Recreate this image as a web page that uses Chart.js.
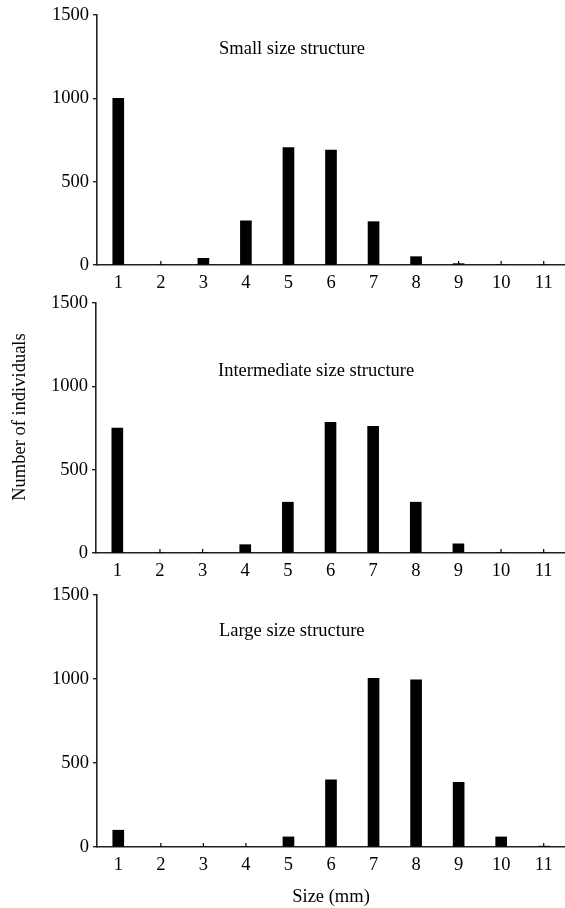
<!DOCTYPE html>
<html>
<head>
<meta charset="utf-8">
<script src="https://cdn.jsdelivr.net/npm/chart.js@4.4.1/dist/chart.umd.min.js"></script>
<style>
  html, body { margin: 0; padding: 0; background: #ffffff; }
  body { width: 565px; height: 908px; position: relative; overflow: hidden; }
  .panel { position: absolute; left: 0; width: 565px; }
  .panel canvas { display: block; }
</style>
</head>
<body>
<div class="panel" style="top:0px;height:300px;"><canvas id="c1" width="565" height="300"></canvas></div>
<div class="panel" style="top:288px;height:300px;"><canvas id="c2" width="565" height="300"></canvas></div>
<div class="panel" style="top:580px;height:328px;"><canvas id="c3" width="565" height="328"></canvas></div>
<script>
// ---- data ----
const sizes = ['1', '2', '3', '4', '5', '6', '7', '8', '9', '10', '11'];
const smallCounts = [1000, 0, 40, 265, 705, 690, 260, 50, 8, 0, 0];
const intermediateCounts = [750, 0, 0, 50, 305, 785, 760, 305, 55, 0, 0];
const largeCounts = [100, 0, 0, 0, 60, 400, 1005, 995, 385, 60, 5];
const yTicks = [0, 500, 1000, 1500];
const panelTitles = ['Small size structure', 'Intermediate size structure', 'Large size structure'];
const yAxisTitle = 'Number of individuals';
const xAxisTitle = 'Size (mm)';

const FONT = "'Liberation Serif', 'DejaVu Serif', serif";
const INK = '#000000';

// text label inside plot area, positioned via the scales
const panelLabel = {
  id: 'panelLabel',
  afterDraw(chart, args, opts) {
    const {ctx, chartArea, scales} = chart;
    ctx.save();
    ctx.font = opts.size + 'px ' + FONT;
    ctx.fillStyle = INK;
    ctx.textAlign = 'left';
    ctx.textBaseline = 'middle';
    ctx.fillText(opts.text, chartArea.left + opts.dx, scales.y.getPixelForValue(opts.atValue));
    if (opts.yTitle) {
      ctx.translate(opts.yTitleX, (chartArea.top + chartArea.bottom) / 2 - opts.yTitleShift);
      ctx.rotate(-Math.PI / 2);
      ctx.textAlign = 'center';
      ctx.fillText(opts.yTitle, 0, 0);
    }
    ctx.restore();
  }
};

// small inward tick marks on the x axis
const xInnerTicks = {
  id: 'xInnerTicks',
  afterDatasetsDraw(chart) {
    const {ctx, scales} = chart;
    const x = scales.x, y0 = scales.y.getPixelForValue(0);
    ctx.save();
    ctx.strokeStyle = INK;
    ctx.lineWidth = 1.2;
    x.ticks.forEach((t, i) => {
      const px = x.getPixelForTick(i);
      ctx.beginPath();
      ctx.moveTo(px, y0);
      ctx.lineTo(px, y0 - 4);
      ctx.stroke();
    });
    ctx.restore();
  }
};

function makeChart(id, values, title, titleValue, opts) {
  const xScale = {
    type: 'category',
    offset: true,
    grid: { display: false, drawTicks: false },
    border: { display: true, color: '#222', width: 1.6 },
    ticks: {
      color: INK,
      font: { family: FONT, size: 18.5 },
      padding: 7,
      autoSkip: false,
      maxRotation: 0
    },
    afterFit(scale) { scale.height = opts.xHeight; }
  };
  if (opts.xTitle) {
    xScale.title = {
      display: true,
      text: opts.xTitle,
      color: INK,
      font: { family: FONT, size: 18.5 },
      padding: { top: 3, bottom: 0 }
    };
  }
  const yScale = {
    type: 'linear',
    min: 0,
    max: 1500,
    afterBuildTicks(scale) { scale.ticks = yTicks.map(v => ({ value: v })); },
    grid: { drawOnChartArea: false, drawTicks: true, tickLength: 4, color: '#222', lineWidth: 1.4 },
    border: { display: true, color: '#222', width: 1.6 },
    ticks: {
      color: INK,
      font: { family: FONT, size: 18.5 },
      padding: 4,
      callback: v => String(v)
    },
    afterFit(scale) { scale.width = opts.yWidth; }
  };
  return new Chart(document.getElementById(id), {
    type: 'bar',
    data: {
      labels: sizes,
      datasets: [{
        data: values,
        backgroundColor: '#000000',
        borderWidth: 0,
        barThickness: 11
      }]
    },
    options: {
      responsive: false,
      animation: false,
      layout: { padding: { top: 15, left: 0, right: 0, bottom: 0 } },
      plugins: {
        legend: { display: false },
        tooltip: { enabled: false },
        title: { display: false },
        panelLabel: {
          text: title, atValue: titleValue, dx: 122, size: 18.5,
          yTitle: opts.yTitle, yTitleX: 20, yTitleShift: 11
        }
      },
      scales: { x: xScale, y: yScale }
    },
    plugins: [panelLabel, xInnerTicks]
  });
}

makeChart('c1', smallCounts, panelTitles[0], 1296, { xHeight: 35, yWidth: 97 });
makeChart('c2', intermediateCounts, panelTitles[1], 1092, { xHeight: 35, yWidth: 96, yTitle: yAxisTitle });
makeChart('c3', largeCounts, panelTitles[2], 1286, { xHeight: 61, yWidth: 97, xTitle: xAxisTitle });
</script>
</body>
</html>
